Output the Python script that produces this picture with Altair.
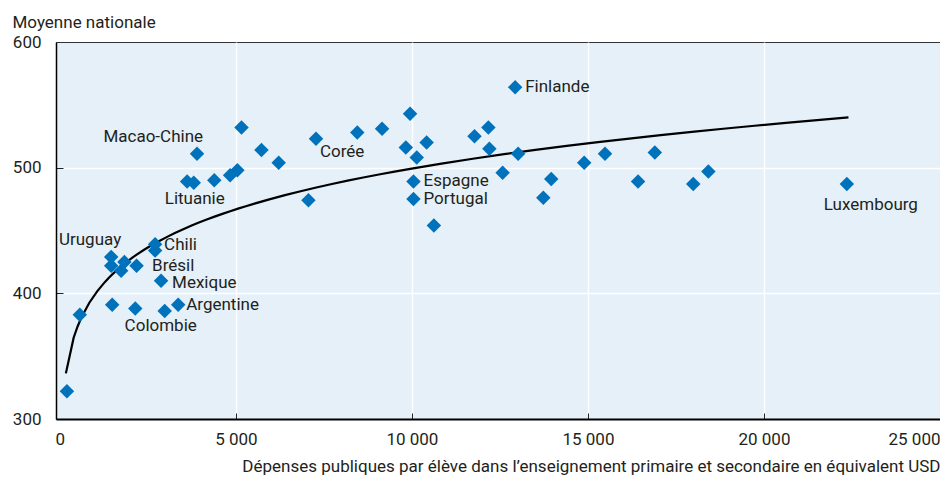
import altair as alt
import pandas as pd

# ---- data ----
spend = [200, 566, 1458, 1458, 1740, 1833, 2179, 1486, 2142, 2978, 3361, 2705, 2705, 2874,
         5160, 3896, 5726, 6215, 7275, 7060, 3615, 3803, 4386, 4836, 5042,
         8448, 9152, 9948, 9827, 10418, 10137, 10044, 10044, 10624,
         12932, 11778, 12172, 12200, 13017, 12577, 13957, 13732, 14894, 15485,
         16423, 16900, 17991, 18421, 22354]
score = [322, 383, 429, 422, 418, 425, 422, 391, 388, 386, 391, 439, 434, 410,
         532, 511, 514, 504, 523, 474, 489, 488, 490, 494, 498,
         528, 531, 543, 516, 520, 508, 489, 475, 454,
         564, 525, 532, 515, 511, 496, 491, 476, 504, 511,
         489, 512, 487, 497, 487]
country = ["", "", "Uruguay", "", "", "", "", "", "", "Colombie", "Argentine", "Chili", "Brésil", "Mexique",
           "", "Macao-Chine", "", "", "Corée", "", "", "Lituanie", "", "", "",
           "", "", "", "", "", "", "Espagne", "Portugal", "",
           "Finlande", "", "", "", "", "", "", "", "", "",
           "", "", "", "", "Luxembourg"]

x_ticks = [0, 5000, 10000, 15000, 20000, 25000]
y_ticks = [300, 400, 500, 600]
x_title = "Dépenses publiques par élève dans l’enseignement primaire et secondaire en équivalent USD"
y_title = "Moyenne nationale"

# label styles: (align, dx, dy)
label_style = {
    "Uruguay": ("right", 10, -17),
    "Colombie": ("center", -4, 15),
    "Argentine": ("left", 8, 0),
    "Chili": ("left", 9, 1),
    "Brésil": ("left", -3, 15),
    "Mexique": ("left", 11, 2),
    "Macao-Chine": ("right", 6, -17),
    "Corée": ("left", 4, 13),
    "Lituanie": ("center", 1, 16),
    "Espagne": ("left", 10, 0),
    "Portugal": ("left", 10, 0),
    "Finlande": ("left", 10, 0),
    "Luxembourg": ("center", 24, 21),
}

df = pd.DataFrame({"depense": spend, "score": score, "pays": country})

FONT = "Roboto"
TEXT = "#231f20"
BLUE = "#0072bc"
FS = 17

x_scale = alt.Scale(domain=[-110, 25000], nice=False, zero=False)
y_scale = alt.Scale(domain=[300, 600], nice=False, zero=False)


def grid_color(edges):
    test = " || ".join(f"datum.value == {v}" for v in edges)
    return {"condition": {"test": test, "value": "transparent"}, "value": "white"}


x_axis = alt.Axis(
    orient="bottom",
    values=x_ticks,
    labelExpr="replace(format(datum.value, ','), ',', ' ')",
    ticks=False, tickSize=0, labelPadding=12, labelFlush=True,
    domain=True, domainColor="black", domainWidth=2,
    grid=True, gridColor=grid_color([0, 25000]), gridWidth=1.5,
    title=x_title, titleAnchor="end", titleBaseline="alphabetic", titleY=52,
    titleFontWeight="normal", titleFontSize=FS, titleColor=TEXT, titleFont=FONT,
    labelFont=FONT, labelFontSize=FS, labelColor=TEXT,
)
y_axis = alt.Axis(
    orient="left",
    values=y_ticks,
    ticks=False, tickSize=0, labelPadding=15, labelFlush=False,
    domain=True, domainColor="black", domainWidth=1.5,
    grid=True, gridColor=grid_color([300, 600]), gridWidth=1.5,
    title=y_title, titleAngle=0, titleAlign="left", titleBaseline="alphabetic",
    titleX=-44, titleY=-15,
    titleFontWeight="normal", titleFontSize=FS, titleColor=TEXT, titleFont=FONT,
    labelFont=FONT, labelFontSize=FS, labelColor=TEXT,
)
x_tick_axis = alt.Axis(orient="bottom", offset=-6, values=x_ticks[1:-1], ticks=True, tickSize=6,
                       tickColor="#222", tickWidth=1, labels=False, domain=False, grid=False, title=None)
y_tick_axis = alt.Axis(orient="left", offset=-7, values=y_ticks[1:-1], ticks=True, tickSize=7,
                       tickColor="#222", tickWidth=1, labels=False, domain=False, grid=False, title=None)

points = alt.Chart(df).mark_point(shape="diamond", filled=True, size=210, color=BLUE, opacity=1).encode(
    x=alt.X("depense:Q", scale=x_scale, axis=x_axis),
    y=alt.Y("score:Q", scale=y_scale, axis=y_axis),
)

trend = alt.Chart(df).transform_regression(
    "depense", "score", method="pow", extent=[170, 22400]
).mark_line(color="black", strokeWidth=2.2).encode(
    x=alt.X("depense:Q", scale=x_scale, axis=x_tick_axis),
    y=alt.Y("score:Q", scale=y_scale, axis=y_tick_axis),
)

layers = [trend, points]
for name, (align, dx, dy) in label_style.items():
    layers.append(
        alt.Chart(df).transform_filter(alt.datum.pays == name).mark_text(
            align=align, baseline="middle", dx=dx, dy=dy, font=FONT, fontSize=FS, color=TEXT
        ).encode(
            x=alt.X("depense:Q", scale=x_scale, axis=None),
            y=alt.Y("score:Q", scale=y_scale, axis=None),
            text="pays:N",
        )
    )

chart = alt.layer(*layers).resolve_axis(x="independent", y="independent").properties(
    width=884, height=377,
    padding={"left": 48, "top": 34, "right": 0, "bottom": 56},
    autosize=alt.AutoSizeParams(type="none"),
    background="white",
).configure_view(fill="#e5f0f8", stroke="#333333", strokeWidth=1)

chart.save("out.html", embed_options={"renderer": "svg", "actions": False})
